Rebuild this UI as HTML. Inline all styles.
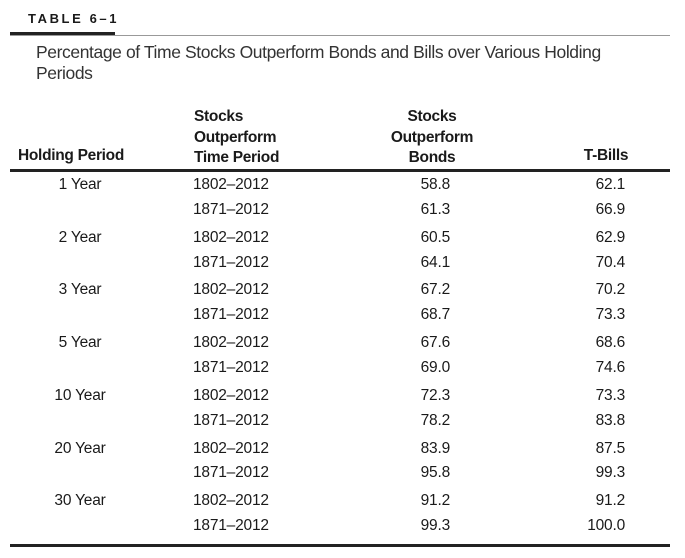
<!DOCTYPE html>
<html><head><meta charset="utf-8"><style>
body{margin:0;width:685px;height:558px;background:#fff;position:relative;overflow:hidden;font-family:"Liberation Sans",sans-serif;color:#1a1a1a}
.a{position:absolute;white-space:nowrap;line-height:1}
.h{font-weight:bold;font-size:15.5px;letter-spacing:-0.3px}
.d{font-size:15.5px;letter-spacing:-0.2px}
.c{transform:translateX(-50%)}
.r{transform:translateX(-100%)}
</style></head><body>
<div class="a" style="left:28px;top:12px;font-weight:bold;font-size:13px;letter-spacing:2.6px">TABLE 6–1</div>
<div class="a" style="left:10px;top:32px;width:105px;height:3px;background:#222"></div>
<div class="a" style="left:10px;top:35px;width:660px;height:1px;background:#999"></div>
<div class="a" style="left:36px;top:42px;font-size:17.5px;line-height:21px;letter-spacing:-0.4px;color:#333">Percentage of Time Stocks Outperform Bonds and Bills over Various Holding<br>Periods</div>
<div class="a h" style="left:18px;top:148px">Holding Period</div>
<div class="a h" style="left:194px;top:107px;line-height:20.5px">Stocks<br>Outperform<br>Time Period</div>
<div class="a h" style="left:432px;top:107px;line-height:20.5px;text-align:center;transform:translateX(-50%)">Stocks<br>Outperform<br>Bonds</div>
<div class="a h" style="left:606px;top:148px;transform:translateX(-50%)">T-Bills</div>
<div class="a" style="left:10px;top:169px;width:660px;height:3px;background:#222"></div>
<div class="a" style="left:10px;top:544px;width:660px;height:3px;background:#222"></div>
<script>
const periods=["1 Year","2 Year","3 Year","5 Year","10 Year","20 Year","30 Year"];
const ranges=["1802–2012","1871–2012"];
const bonds=[58.8,61.3,60.5,64.1,67.2,68.7,67.6,69.0,72.3,78.2,83.9,95.8,91.2,99.3];
const bills=[62.1,66.9,62.9,70.4,70.2,73.3,68.6,74.6,73.3,83.8,87.5,99.3,91.2,100.0];
const host=document.body;
function add(txt,cls,x,y,name){const e=document.createElement('div');e.className='a d '+cls;e.textContent=txt;e.style.left=x+'px';e.style.top=y+'px';


host.appendChild(e);}
periods.forEach((p,i)=>{const y0=177+i*52.7;
add(p,'c',80,y0,'holding-period-label');
for(let j=0;j<2;j++){const y=y0+j*24.8,k=i*2+j;
add(ranges[j],'',193,y,'time-period-cell');
add(bonds[k].toFixed(1),'r',450,y,'bonds-value');
add(bills[k].toFixed(1),'r',625,y,'tbills-value');}});
</script>
</body></html>
